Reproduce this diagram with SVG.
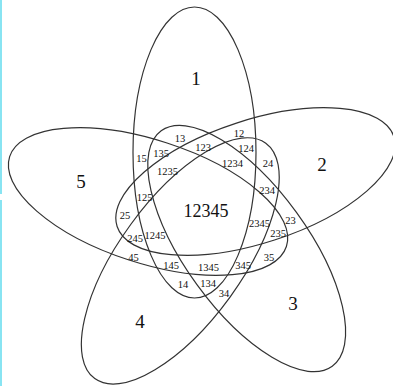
<svg xmlns="http://www.w3.org/2000/svg" width="393" height="386" viewBox="0 0 393 386">
<style>
.e{fill:none;stroke:#333;stroke-width:1.2}
text{font-family:"Liberation Serif","Times New Roman",serif;fill:#111;text-anchor:middle}
.s{font-size:10.5px}
.b{font-size:19px}
</style>
<rect x="0" y="0" width="393" height="386" fill="#fff"/>
<rect x="0" y="0" width="2" height="194" fill="#88e4f2"/>
<rect x="0" y="200" width="2" height="186" fill="#88e4f2"/>
<g id="sets">
<ellipse id="set1" class="e" cx="194.5" cy="152.5" rx="61.5" ry="145.5"/>
<ellipse id="set2" class="e" cx="194.5" cy="152.5" rx="61.5" ry="145.5" transform="rotate(72 205 209)"/>
<ellipse id="set3" class="e" cx="194.5" cy="152.5" rx="61.5" ry="145.5" transform="rotate(144 205 209)"/>
<ellipse id="set4" class="e" cx="194.5" cy="152.5" rx="61.5" ry="145.5" transform="rotate(216 205 209)"/>
<ellipse id="set5" class="e" cx="194.5" cy="152.5" rx="61.5" ry="145.5" transform="rotate(288 205 209)"/>
</g>
<g id="labels">
<text class="b" x="196" y="85">1</text>
<text class="b" x="322" y="171">2</text>
<text class="b" x="293" y="310">3</text>
<text class="b" x="140" y="328">4</text>
<text class="b" x="81" y="188">5</text>
<text class="s" x="180" y="141.5">13</text>
<text class="s" x="239" y="136.5">12</text>
<text class="s" x="203" y="150.5">123</text>
<text class="s" x="246" y="152">124</text>
<text class="s" x="161" y="156.5">135</text>
<text class="s" x="141.5" y="162">15</text>
<text class="s" x="232.5" y="166.5">1234</text>
<text class="s" x="268" y="167">24</text>
<text class="s" x="167.5" y="175">1235</text>
<text class="s" x="267" y="193.5">234</text>
<text class="s" x="144.5" y="200.5">125</text>
<text class="b" x="206" y="217" style="font-size:18px">12345</text>
<text class="s" x="125" y="219">25</text>
<text class="s" x="259.5" y="227">2345</text>
<text class="s" x="290.5" y="223.5">23</text>
<text class="s" x="278" y="237">235</text>
<text class="s" x="135" y="242">245</text>
<text class="s" x="155" y="238.5">1245</text>
<text class="s" x="133.5" y="260.5">45</text>
<text class="s" x="269" y="260.5">35</text>
<text class="s" x="171" y="269">145</text>
<text class="s" x="208.5" y="270.5">1345</text>
<text class="s" x="243" y="268.5">345</text>
<text class="s" x="183" y="288">14</text>
<text class="s" x="208" y="286.5">134</text>
<text class="s" x="224" y="296.5">34</text>
</g>
</svg>
